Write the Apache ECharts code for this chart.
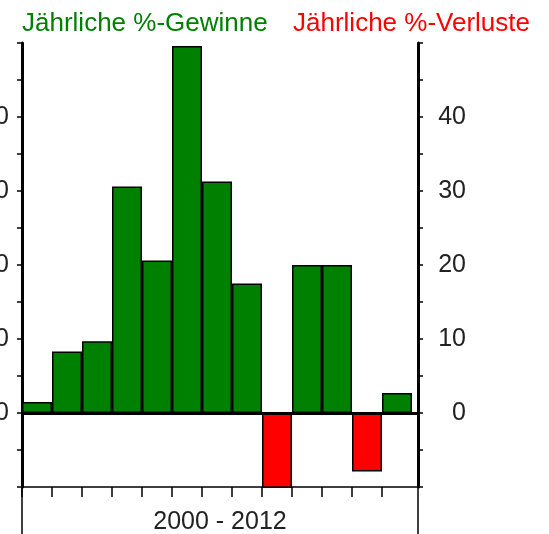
<!DOCTYPE html>
<html>
<head>
<meta charset="utf-8">
<script src="https://cdn.jsdelivr.net/npm/echarts@6/dist/echarts.min.js"></script>
<style>
  html, body { margin: 0; padding: 0; background: #fff; }
  #chart { width: 549px; height: 534px; }
</style>
</head>
<body>
<div id="chart"></div>
<script>
// Jahre 2000 - 2012
const years = ['2000', '2001', '2002', '2003', '2004', '2005', '2006', '2007', '2008', '2009', '2010', '2011', '2012']
const gains = [1.5, 8.3, 9.7, 30.6, 20.6, 49.6, 31.3, 17.5, null, 20.0, 20.0, null, 2.7]
const losses = [null, null, null, null, null, null, null, null, -10.3, null, null, -7.9, null]
const yTicks = [0, 10, 20, 30, 40]

const FONT = "'Liberation Sans', Arial, sans-serif"
const GREEN = '#008000'
const RED = '#ff0000'

const chart = echarts.init(document.getElementById('chart'), null, { renderer: 'canvas' })

// bars sit in the middle of each yearly slot
const toPoints = (vals) => vals.map((v, i) => [i + 0.5, v == null ? '-' : v])

const yLabel = (v) => (yTicks.indexOf(v) >= 0 ? String(v) : '')

const yAxisBase = {
  type: 'value',
  min: -10,
  max: 50,
  interval: 5,
  splitLine: { show: false },
  axisLine: { show: true, lineStyle: { color: '#000', width: 3 } },
  axisTick: { show: true, inside: false, length: 5, lineStyle: { color: '#000', width: 1.5 } }
}

const legendBase = {
  top: 6,
  icon: 'none',
  itemWidth: 0,
  selectedMode: false,
  textStyle: { fontFamily: FONT, fontSize: 26 }
}

const option = {
  animation: false,
  legend: [
    Object.assign({}, legendBase, {
      left: 12,
      data: [{ name: 'Jährliche %-Gewinne', textStyle: { color: GREEN } }]
    }),
    Object.assign({}, legendBase, {
      left: 283,
      data: [{ name: 'Jährliche %-Verluste', textStyle: { color: RED } }]
    })
  ],
  grid: { left: 22, right: 131, top: 43, bottom: 47, outerBoundsMode: 'none', containLabel: false },
  xAxis: {
    type: 'value',
    min: 0,
    max: 13.2,
    interval: 1,
    splitLine: { show: false },
    axisLine: { show: true, onZero: false, lineStyle: { color: '#000', width: 1.5 } },
    // one tick at the start of every year
    axisTick: {
      show: true,
      inside: false,
      length: 10,
      customValues: years.map((y, i) => i),
      lineStyle: { color: '#000', width: 1.5 }
    },
    axisLabel: { show: false },
    name: years[0] + ' - ' + years[years.length - 1],
    nameLocation: 'middle',
    nameGap: 23,
    nameTextStyle: { fontFamily: FONT, fontSize: 25, color: '#222' }
  },
  yAxis: [
    Object.assign({}, yAxisBase, {
      position: 'left',
      axisLabel: { formatter: yLabel, fontFamily: FONT, fontSize: 25, color: '#222', margin: 13 }
    }),
    Object.assign({}, yAxisBase, {
      position: 'right',
      axisLabel: { formatter: yLabel, fontFamily: FONT, fontSize: 25, color: '#222', margin: 48, align: 'right' }
    })
  ],
  series: [
    {
      name: 'Jährliche %-Gewinne',
      type: 'bar',
      barWidth: 30,
      barGap: '-100%',
      data: toPoints(gains),
      itemStyle: { color: GREEN, borderColor: '#000', borderWidth: 1.5 },
      markLine: {
        silent: true,
        symbol: 'none',
        label: { show: false },
        lineStyle: { color: '#000', width: 3, type: 'solid' },
        data: [{ yAxis: 0 }]
      }
    },
    {
      name: 'Jährliche %-Verluste',
      type: 'bar',
      barWidth: 30,
      barGap: '-100%',
      data: toPoints(losses),
      itemStyle: { color: RED, borderColor: '#000', borderWidth: 1.5 }
    }
  ],
  // frame lines continuing under the axis box
  graphic: [
    { type: 'line', shape: { x1: 22, y1: 487, x2: 22, y2: 534 }, style: { stroke: '#000', lineWidth: 1.5 } },
    { type: 'line', shape: { x1: 418, y1: 487, x2: 418, y2: 534 }, style: { stroke: '#000', lineWidth: 1.5 } }
  ]
}

chart.setOption(option)
</script>
</body>
</html>
